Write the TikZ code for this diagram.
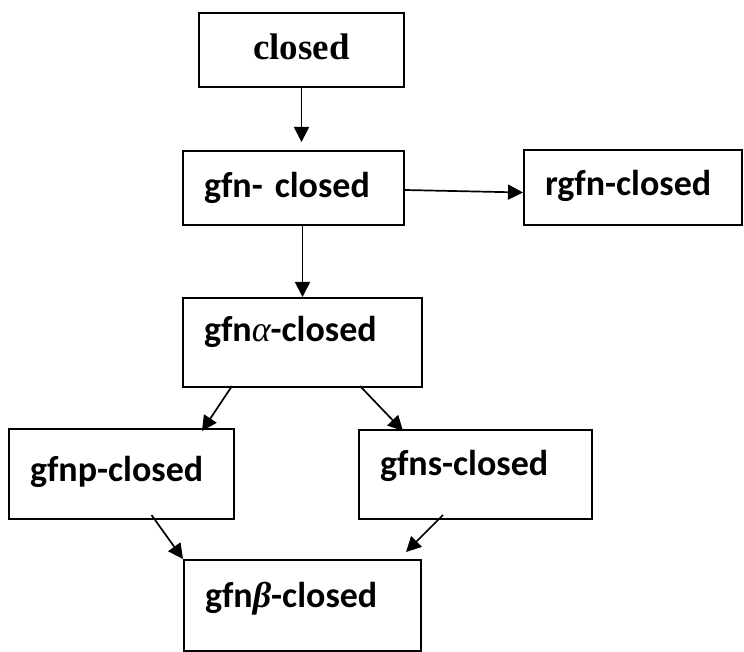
\documentclass[tikz,border=0pt]{standalone}
\usepackage{fontspec}
\usepackage{tikz}
\usetikzlibrary{positioning,arrows.meta}
\newfontfamily\calibri{Carlito}
\newfontfamily\timesfont{Liberation Serif}
\newcommand{\galpha}{{\timesfont\mdseries\itshape α}}
\newcommand{\gbeta}{{\timesfont\bfseries\itshape β}}

\begin{document}
\begin{tikzpicture}[x=1pt,y=1pt,on grid,
    box/.style={draw,rectangle,line width=2pt,inner xsep=21pt,inner ysep=0pt,
        align=left,font=\calibri\bfseries\fontsize{36}{40}\selectfont},
    arr/.style={-{Triangle[length=15pt,width=15pt]},line width=1.7pt}]
    \useasboundingbox (0,0) rectangle (744,-652);

    \node[box,align=center,font=\timesfont\bfseries\fontsize{37}{40}\selectfont,
        text width=163pt,text height=47pt,text depth=27pt] (closed) at (301.5,-50) {closed};
    \node[box,text width=179pt,text height=47pt,text depth=27pt] (gfn) [below left=138pt and 8pt of closed] {gfn- closed};
    \node[box,text width=176pt,text height=45pt,text depth=30pt] (rgfn) [right=339.5pt of gfn] {rgfn-closed};
    \node[box,text width=197pt,text height=43pt,text depth=46pt] (gfna) [below right=154.5pt and 9pt of gfn] {gfn\galpha-closed};
    \node[box,text width=183pt,text height=52pt,text depth=38pt] (gfnp) [below left=131.5pt and 181pt of gfna] {gfnp-closed};
    \node[box,text width=191pt,text height=45pt,text depth=44pt] (gfns) [below right=132pt and 173pt of gfna] {gfns-closed};
    \node[box,text width=195pt,text height=47pt,text depth=44pt] (gfnb) [below=263pt of gfna] {gfn\gbeta-closed};

    \draw[arr,shorten >=8pt] (closed.south) -- (closed.south |- gfn.north);
    \draw[arr] (gfna.north |- gfn.south) -- (gfna.north);
    \draw[arr] ([yshift=-2pt]gfn.east) -- ([yshift=-4.5pt]rgfn.west);
    \draw[arr] ([xshift=50pt,yshift=2pt]gfna.south west) -- ([xshift=-33pt,yshift=-3pt]gfnp.north east);
    \draw[arr] ([xshift=-63pt,yshift=2pt]gfna.south east) -- ([xshift=45pt,yshift=-2pt]gfns.north west);
    \draw[arr] ([xshift=30pt,yshift=5pt]gfnp.south) -- (gfnb.north west);
    \draw[arr] ([xshift=85pt,yshift=5pt]gfns.south west) -- ([xshift=-16pt,yshift=7pt]gfnb.north east);
\end{tikzpicture}
\end{document}
